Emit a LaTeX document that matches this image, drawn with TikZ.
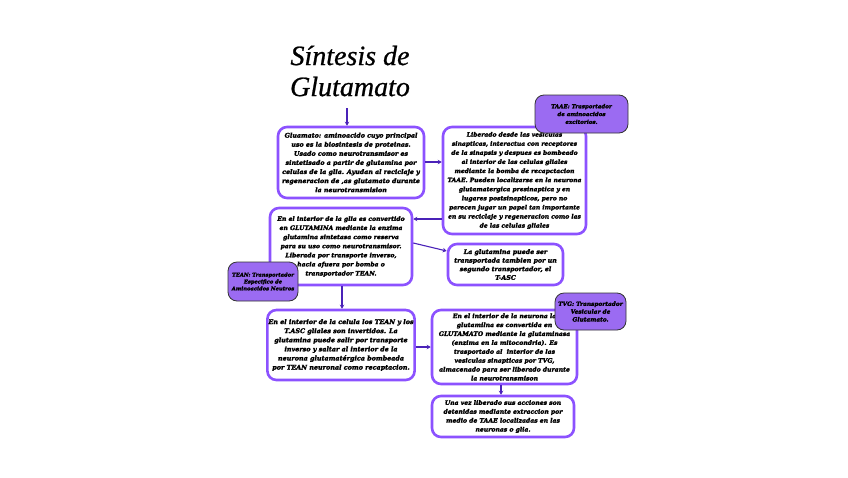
\documentclass[tikz,border=0pt]{standalone}
\usepackage{fontspec}
\setmainfont{DejaVu Serif}
\newfontfamily\boxfont[UprightFont={* Bold Italic}, FakeBold=2.6]{DejaVu Serif}
\newfontfamily\titlefont[UprightFont={* Italic}, FakeBold=0.8]{Liberation Serif}
\usetikzlibrary{arrows.meta}
\definecolor{boxpurple}{HTML}{8C52FF}
\definecolor{tagpurple}{HTML}{9B6BF2}
\definecolor{arrowpurple}{HTML}{4A22B8}
\begin{document}
\begin{tikzpicture}[x=1pt,y=-1pt,
  infobox/.style={draw=boxpurple, line width=2.6pt, rounded corners=9pt, fill=white, align=center, inner sep=1pt,
     font=\boxfont\fontsize{6}{9.1}\selectfont},
  tagbox/.style={draw=black!80, line width=0.8pt, rounded corners=9pt, fill=tagpurple, align=center, inner sep=1pt,
     font=\boxfont\fontsize{5.5}{7.8}\selectfont},
  conn/.style={draw=arrowpurple, line width=1.1pt, -{Stealth[length=4pt,width=4.5pt]}}]
\useasboundingbox (0,0) rectangle (848,477);
\fill[white] (0,0) rectangle (848,477);

\node[font=\titlefont\fontsize{28}{31}\selectfont, align=center] (title) at (350,71) {Síntesis de\\Glutamato};

\node[infobox, minimum width=146pt, minimum height=71pt, font=\boxfont\fontsize{6.3}{9.1}\selectfont] (b1) at (351,162.5)
 {Gluamato: aminoacido cuyo principal\\uso es la biosintesis de proteinas.\\Usado como neurotransmisor es\\sintetisado a partir de glutamina por\\celulas de la glia. Ayudan al reciclaje y\\regeneracion de ,as glutamato durante\\la neurotransmision};

\node[infobox, minimum width=143pt, minimum height=107pt] (b2) at (514.5,180.5)
 {Liberado desde las vesiculas\\sinapticas, interactua con receptores\\de la sinapsis y despues es bombeado\\al interior de las celulas gliales\\mediante la bomba de recapctacion\\TAAE. Pueden localizarse en la neurona\\glutamatergica presinaptica y en\\lugares postsinapticos, pero no\\parecen jugar un papel tan importante\\en su reciclaje y regeneracion como las\\de las celulas gliales};

\node[tagbox, minimum width=93pt, minimum height=38pt] (t1) at (581.5,114)
 {TAAE: Trasportador\\de aminoacidos\\excitorios.};

\node[infobox, minimum width=142pt, minimum height=77pt, font=\boxfont\fontsize{6.1}{9.1}\selectfont] (b3) at (341,246.5)
 {En el interior de la glia es convertido\\en GLUTAMINA mediante la enzima\\glutamina sintetasa como reserva\\para su uso como neurotransmisor.\\Liberada por transporte inverso,\\hacia afuera por bomba o\\transportador TEAN.};

\node[infobox, minimum width=115pt, minimum height=41pt, font=\boxfont\fontsize{6.3}{8.6}\selectfont] (b4) at (505.5,264.5)
 {La glutamina puede ser\\transportada tambien por un\\segundo transportador, el\\T-ASC};

\node[tagbox, minimum width=70pt, minimum height=39pt, font=\boxfont\fontsize{5.2}{6.9}\selectfont] (t2) at (263,281.5)
 {TEAN: Transportador\\Especifico de\\Aminoacidos Neutros};

\node[infobox, minimum width=142pt, minimum height=70pt, font=\boxfont\fontsize{6.4}{9.1}\selectfont] (b5) at (341,345)
 {En el interior de la celula los TEAN y los\\T.ASC gliales son invertidos. La\\glutamina puede salir por transporte\\inverso y saltar al interior de la\\neurona glutamatérgica bombeada\\por TEAN neuronal como recaptacion.};

\node[infobox, minimum width=145pt, minimum height=74pt, font=\boxfont\fontsize{6.1}{8.9}\selectfont] (b6) at (504.5,347)
 {En el interior de la neurona la\\glutamilna es convertida en\\GLUTAMATO mediante la glutaminasa\\(enzima en la mitocondria). Es\\trasportado al \ interior de las\\vesiculas sinapticas por TVG,\\almacenado para ser liberado durante\\la neurotransmison};

\node[tagbox, minimum width=71pt, minimum height=37pt, font=\boxfont\fontsize{5.8}{7.8}\selectfont] (t3) at (590.5,311.5)
 {TVG: Transportador\\Vesicular de\\Glutamato.};

\node[infobox, minimum width=142pt, minimum height=41pt, font=\boxfont\fontsize{6.1}{8.9}\selectfont] (b7) at (503,416.5)
 {Una vez liberado sus acciones son\\detenidas mediante extraccion por\\medio de TAAE localizadas en las\\neuronas o glia.};

\draw[conn] (347,108) -- (b1.north -| 347,0);
\draw[conn] (b1.east |- 0,162) -- (b2.west |- 0,162);
\draw[conn] (b2.west |- 0,219) -- (b3.east |- 0,219);
\draw[conn] (b3.east |- 0,243) -- (b4.west |- 0,251);
\draw[conn] (b3.south -| 342,0) -- (b5.north -| 342,0);
\draw[conn] (b5.east |- 0,347) -- (b6.west |- 0,347);
\draw[conn] (b6.south -| 501,0) -- (b7.north -| 501,0);
\end{tikzpicture}
\end{document}
